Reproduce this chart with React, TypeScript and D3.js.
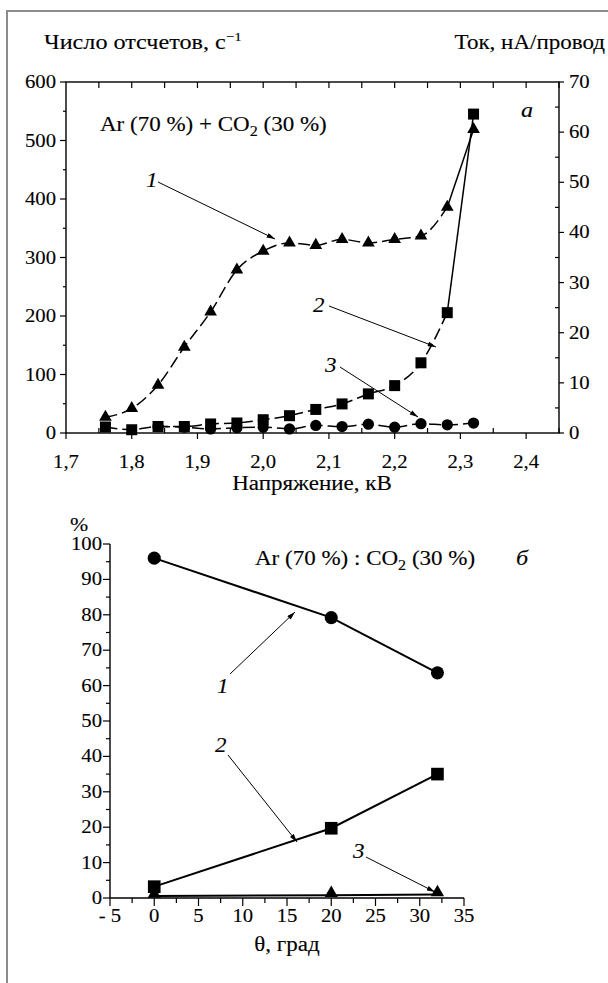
import React, { useEffect, useRef } from 'react';
import * as d3 from 'd3';

// ---- panel a: voltage scan ----
const voltage = [1.76, 1.8, 1.84, 1.88, 1.92, 1.96, 2.0, 2.04, 2.08, 2.12, 2.16, 2.2, 2.24, 2.28, 2.32];
// curve 1 (triangles), count rate, s^-1
const countsCurve1 = [27, 42, 82, 147, 207, 279, 311, 325, 321, 331, 325, 331, 337, 386, 519];
// curve 2 (squares), current, nA per wire
const currentCurve2 = [1.2, 0.65, 1.3, 1.3, 1.8, 2.0, 2.65, 3.45, 4.7, 5.8, 7.8, 9.45, 14, 24, 63.6];
// curve 3 (circles), count rate
const voltage3 = [1.84, 1.88, 1.92, 1.96, 2.0, 2.04, 2.08, 2.12, 2.16, 2.2, 2.24, 2.28, 2.32];
const countsCurve3 = [11, 10, 7, 9, 10, 7, 13, 11, 15, 10, 16, 14, 17];

const xTicksA = [1.7, 1.8, 1.9, 2.0, 2.1, 2.2, 2.3, 2.4];
const yTicksLeft = [0, 100, 200, 300, 400, 500, 600];
const yTicksRight = [0, 10, 20, 30, 40, 50, 60, 70];

// ---- panel б: angle scan ----
const angle = [0, 20, 32];
const pctCurve1 = [96, 79.2, 63.6];
const pctCurve2 = [3.2, 19.7, 35];
const pctCurve3 = [0.6, 0.8, 1.0];

const xTicksB = [-5, 0, 5, 10, 15, 20, 25, 30, 35];
const yTicksB = [0, 10, 20, 30, 40, 50, 60, 70, 80, 90, 100];

const SX = 1.15; // the original lettering is wider than Times
const FONT = 'Liberation Serif';

const T = ({ x, y, size = 18, anchor = 'start', italic = false, children }: any) => (
  <text
    className="st"
    x={x}
    y={y}
    fontFamily={FONT}
    fontSize={size}
    fontStyle={italic ? 'italic' : 'normal'}
    textAnchor={anchor}
    fill="#000"
    stroke="#000"
    strokeWidth={0.12}
  >
    {children}
  </text>
);

const comma = (v: number) => d3.format('.1f')(v).replace('.', ',');

const sym = (type: d3.SymbolType, size: number) => d3.symbol().type(type).size(size)() || '';

const App = () => {
  const svgRef = useRef<SVGSVGElement>(null);

  useEffect(() => {
    // widen the lettering a bit, like the scanned figure
    d3.select(svgRef.current).selectAll<SVGTextElement, unknown>('text.st').each(function () {
      if (this.getAttribute('textLength')) return;
      const w = this.getComputedTextLength();
      this.setAttribute('textLength', String(w * SX));
      this.setAttribute('lengthAdjust', 'spacingAndGlyphs');
    });
  }, []);

  // scales, panel a
  const xA = d3.scaleLinear().domain([1.7, 2.45]).range([66, 559]);
  const yL = d3.scaleLinear().domain([0, 600]).range([433, 82]);
  const yR = d3.scaleLinear().domain([0, 70]).range([433, 82]);
  // scales, panel б
  const xB = d3.scaleLinear().domain([-5, 35]).range([110, 464]);
  const yB = d3.scaleLinear().domain([0, 100]).range([898, 544]);

  const pts1 = voltage.map((v, i) => [xA(v), yL(countsCurve1[i])] as [number, number]);
  const pts2 = voltage.map((v, i) => [xA(v), yR(currentCurve2[i])] as [number, number]);
  const pts3 = voltage3.map((v, i) => [xA(v), yL(countsCurve3[i])] as [number, number]);

  const smooth = d3.line().curve(d3.curveMonotoneX);
  const straight = d3.line();

  const tri = sym(d3.symbolTriangle, 70);
  const sq = sym(d3.symbolSquare, 121);
  const circ = sym(d3.symbolCircle, 100);
  const triB = sym(d3.symbolTriangle, 75);
  const sqB = sym(d3.symbolSquare, 160);
  const circB = sym(d3.symbolCircle, 135);

  const minorA = d3.range(1.75, 2.45, 0.1);
  const topTicks = d3.range(1.75, 2.45, 0.05);
  const minorLeft = d3.range(50, 600, 100);
  const minorRight = d3.range(5, 70, 10);
  const minorXB = d3.range(-2.5, 35, 5);
  const minorYB = d3.range(5, 100, 10);

  const bPts1 = angle.map((a, i) => [xB(a), yB(pctCurve1[i])] as [number, number]);
  const bPts2 = angle.map((a, i) => [xB(a), yB(pctCurve2[i])] as [number, number]);
  const bPts3 = angle.map((a, i) => [xB(a), yB(pctCurve3[i])] as [number, number]);

  const n = voltage.length;

  return (
    <svg
      ref={svgRef}
      width={608}
      height={983}
      fontFamily={FONT}
      style={{ position: 'absolute', left: 0, top: 0, background: '#fff' }}
    >
      <defs>
        <marker id="ah" viewBox="0 0 10 6" refX={10} refY={3} markerWidth={9} markerHeight={5}
          orient="auto" markerUnits="userSpaceOnUse">
          <path d="M0,0 L10,3 L0,6 z" fill="#000" />
        </marker>
      </defs>

      {/* page frame */}
      <path d="M7,983 L7,11 L608,11" fill="none" stroke="#8c8c8c" strokeWidth={2} />

      {/* ================= panel a ================= */}
      <rect x={66} y={82} width={559 - 66} height={433 - 82} fill="none" stroke="#000" strokeWidth={1.4} />

      {/* bottom axis */}
      {xTicksA.map(v => (
        <g key={'xa' + v}>
          <line x1={xA(v)} x2={xA(v)} y1={433} y2={439} stroke="#000" strokeWidth={1.2} />
          <T x={xA(v)} y={468} anchor="middle">{comma(v)}</T>
        </g>
      ))}
      {minorA.map(v => (
        <line key={'mxa' + v} x1={xA(v)} x2={xA(v)} y1={433} y2={428} stroke="#000" strokeWidth={1.2} />
      ))}
      {/* top axis ticks */}
      {topTicks.map(v => (
        <line key={'txa' + v} x1={xA(v)} x2={xA(v)} y1={82} y2={88} stroke="#000" strokeWidth={1.2} />
      ))}
      {/* left axis */}
      {yTicksLeft.map(v => (
        <g key={'yl' + v}>
          <line x1={60} x2={66} y1={yL(v)} y2={yL(v)} stroke="#000" strokeWidth={1.2} />
          <T x={56} y={yL(v) + 6} anchor="end">{v}</T>
        </g>
      ))}
      {minorLeft.map(v => (
        <line key={'myl' + v} x1={63} x2={66} y1={yL(v)} y2={yL(v)} stroke="#000" strokeWidth={1.2} />
      ))}
      {/* right axis */}
      {yTicksRight.map(v => (
        <g key={'yr' + v}>
          <line x1={559} x2={564} y1={yR(v)} y2={yR(v)} stroke="#000" strokeWidth={1.2} />
          <T x={569} y={yR(v) + 6}>{v}</T>
        </g>
      ))}
      {minorRight.map(v => (
        <line key={'myr' + v} x1={555} x2={559} y1={yR(v)} y2={yR(v)} stroke="#000" strokeWidth={1.2} />
      ))}

      {/* axis titles */}
      <T x={44} y={49} size={21}>
        Число отсчетов, с<tspan dy={-8} fontSize={13}>−1</tspan>
      </T>
      <T x={605} y={49} size={20} anchor="end">Ток, нА/провод</T>
      <T x={312} y={490} size={20} anchor="middle">Напряжение, кВ</T>

      {/* curves */}
      <path d={smooth(pts1.slice(0, n - 1)) || ''} fill="none" stroke="#000" strokeWidth={1.5} strokeDasharray="12,5" />
      <path d={straight(pts1.slice(n - 2)) || ''} fill="none" stroke="#000" strokeWidth={1.5} />
      <path d={smooth(pts2.slice(0, n - 1)) || ''} fill="none" stroke="#000" strokeWidth={1.5} strokeDasharray="12,5" />
      <path d={straight(pts2.slice(n - 2)) || ''} fill="none" stroke="#000" strokeWidth={1.5} />
      <path d={smooth(pts3) || ''} fill="none" stroke="#000" strokeWidth={1.5} strokeDasharray="12,5" />

      {pts3.map((p, i) => <path key={'c3' + i} d={circ} transform={`translate(${p[0]},${p[1]})`} fill="#000" />)}
      {pts2.map((p, i) => <path key={'c2' + i} d={sq} transform={`translate(${p[0]},${p[1]})`} fill="#000" />)}
      {pts1.map((p, i) => <path key={'c1' + i} d={tri} transform={`translate(${p[0]},${p[1]})`} fill="#000" />)}

      {/* annotations */}
      <T x={100} y={131} size={20}>
        Ar (70 %) + CO<tspan dy={5} fontSize={14}>2</tspan><tspan dy={-5}> (30 %)</tspan>
      </T>
      <T x={521} y={117} size={21} italic>a</T>
      <T x={146} y={187} size={20} italic>1</T>
      <line x1={158} y1={182} x2={275} y2={239} stroke="#000" strokeWidth={1} markerEnd="url(#ah)" />
      <T x={313} y={312} size={20} italic>2</T>
      <line x1={329} y1={306} x2={436} y2={347} stroke="#000" strokeWidth={1} markerEnd="url(#ah)" />
      <T x={325} y={372} size={20} italic>3</T>
      <line x1={340} y1={367} x2={418} y2={417} stroke="#000" strokeWidth={1} markerEnd="url(#ah)" />

      {/* ================= panel б ================= */}
      <line x1={110} x2={110} y1={544} y2={898} stroke="#000" strokeWidth={1.4} />
      <line x1={110} x2={464} y1={898} y2={898} stroke="#000" strokeWidth={1.4} />
      {yTicksB.map(v => (
        <g key={'yb' + v}>
          <line x1={103} x2={110} y1={yB(v)} y2={yB(v)} stroke="#000" strokeWidth={1.2} />
          <T x={102} y={yB(v) + 6} anchor="end">{v}</T>
        </g>
      ))}
      {minorYB.map(v => (
        <line key={'myb' + v} x1={106} x2={110} y1={yB(v)} y2={yB(v)} stroke="#000" strokeWidth={1.2} />
      ))}
      {xTicksB.map(v => (
        <g key={'xb' + v}>
          <line x1={xB(v)} x2={xB(v)} y1={898} y2={906} stroke="#000" strokeWidth={1.2} />
          <T x={xB(v)} y={922} anchor="middle">{v < 0 ? '- ' + Math.abs(v) : v}</T>
        </g>
      ))}
      {minorXB.map(v => (
        <line key={'mxb' + v} x1={xB(v)} x2={xB(v)} y1={898} y2={903} stroke="#000" strokeWidth={1.2} />
      ))}

      <T x={79} y={531} size={19} anchor="middle">%</T>
      <T x={287} y={951} size={20} anchor="middle">θ, град</T>

      <path d={straight(bPts1) || ''} fill="none" stroke="#000" strokeWidth={2} />
      <path d={straight(bPts2) || ''} fill="none" stroke="#000" strokeWidth={2} />
      <path d={straight(bPts3) || ''} fill="none" stroke="#000" strokeWidth={2} />
      {bPts1.map((p, i) => <path key={'b1' + i} d={circB} transform={`translate(${p[0]},${p[1]})`} fill="#000" />)}
      {bPts2.map((p, i) => <path key={'b2' + i} d={sqB} transform={`translate(${p[0]},${p[1]})`} fill="#000" />)}
      {bPts3.map((p, i) => <path key={'b3' + i} d={triB} transform={`translate(${p[0]},${p[1] - 2})`} fill="#000" />)}

      <T x={255} y={565} size={20}>
        Ar (70 %) : CO<tspan dy={5} fontSize={14}>2</tspan><tspan dy={-5}> (30 %)</tspan>
      </T>
      <T x={516} y={565} size={21} italic>б</T>

      <T x={217} y={693} size={20} italic>1</T>
      <line x1={230} y1={674} x2={295} y2={612} stroke="#000" strokeWidth={1} markerEnd="url(#ah)" />
      <T x={215} y={752} size={20} italic>2</T>
      <line x1={228} y1={755} x2={297} y2={842} stroke="#000" strokeWidth={1} markerEnd="url(#ah)" />
      <T x={353} y={858} size={20} italic>3</T>
      <line x1={366} y1={857} x2={435} y2={892} stroke="#000" strokeWidth={1} markerEnd="url(#ah)" />
    </svg>
  );
};

export default App;
